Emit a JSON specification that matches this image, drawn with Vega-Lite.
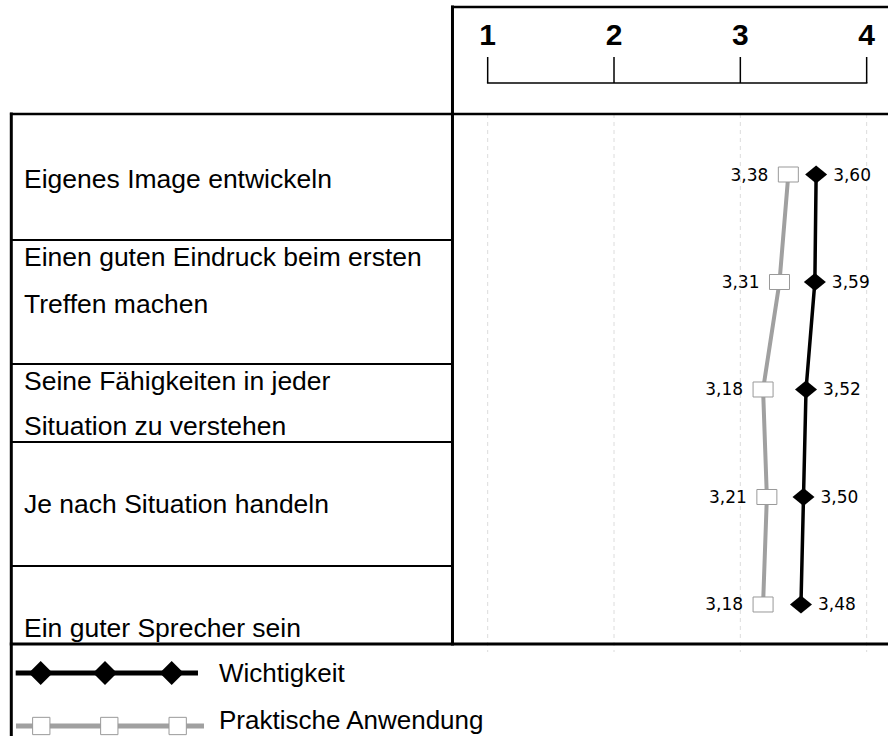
{
  "$schema": "https://vega.github.io/schema/vega-lite/v6.json",
  "width": 888,
  "height": 736,
  "autosize": "none",
  "padding": 0,
  "background": "white",
  "config": {
    "view": {"stroke": null},
    "axis": {"disable": true},
    "legend": {"disable": true},
    "font": "Liberation Sans",
    "locale": {
      "number": {"decimal": ",", "thousands": ".", "grouping": [3], "currency": ["", " €"]}
    }
  },
  "data": {
    "values": [
      {"item": "Eigenes Image entwickeln", "rank": 1, "series": "Wichtigkeit", "value": 3.60},
      {"item": "Eigenes Image entwickeln", "rank": 1, "series": "Praktische Anwendung", "value": 3.38},
      {"item": "Einen guten Eindruck beim ersten Treffen machen", "rank": 2, "series": "Wichtigkeit", "value": 3.59},
      {"item": "Einen guten Eindruck beim ersten Treffen machen", "rank": 2, "series": "Praktische Anwendung", "value": 3.31},
      {"item": "Seine Fähigkeiten in jeder Situation zu verstehen", "rank": 3, "series": "Wichtigkeit", "value": 3.52},
      {"item": "Seine Fähigkeiten in jeder Situation zu verstehen", "rank": 3, "series": "Praktische Anwendung", "value": 3.18},
      {"item": "Je nach Situation handeln", "rank": 4, "series": "Wichtigkeit", "value": 3.50},
      {"item": "Je nach Situation handeln", "rank": 4, "series": "Praktische Anwendung", "value": 3.21},
      {"item": "Ein guter Sprecher sein", "rank": 5, "series": "Wichtigkeit", "value": 3.48},
      {"item": "Ein guter Sprecher sein", "rank": 5, "series": "Praktische Anwendung", "value": 3.18}
    ]
  },
  "layer": [
    {
      "data": {"values": [{"tick": 1}, {"tick": 2}, {"tick": 3}, {"tick": 4}]},
      "mark": {"type": "rule", "stroke": "#dcdcdc", "strokeWidth": 1, "strokeDash": [4, 4]},
      "encoding": {
        "x": {"field": "tick", "type": "quantitative", "scale": {"domain": [-2.8604, 4.1689], "nice": false, "zero": false}},
        "y": {"datum": 0.4372, "type": "quantitative", "scale": {"domain": [-0.6233, 6.2233], "nice": false, "zero": false, "reverse": true}},
        "y2": {"datum": 5.4419}
      }
    },
    {
      "data": {"values": [{}]},
      "mark": {"type": "rule", "stroke": "black", "strokeWidth": 2.7, "strokeCap": "square"},
      "encoding": {"x": {"datum": 0.7214}, "x2": {"datum": 4.4}, "y": {"datum": -0.5581}}
    },
    {
      "data": {"values": [{}]},
      "mark": {"type": "rule", "stroke": "black", "strokeWidth": 3, "strokeCap": "square"},
      "encoding": {"x": {"datum": 0.7214}, "y": {"datum": -0.5581}, "y2": {"datum": 5.3674}}
    },
    {
      "data": {"values": [{}]},
      "mark": {"type": "rule", "stroke": "black", "strokeWidth": 2.7, "strokeCap": "square"},
      "encoding": {"x": {"datum": -2.771}, "x2": {"datum": 4.4}, "y": {"datum": 0.4372}}
    },
    {
      "data": {"values": [{}]},
      "mark": {"type": "rule", "stroke": "black", "strokeWidth": 3, "strokeCap": "square"},
      "encoding": {"x": {"datum": -2.771}, "y": {"datum": 0.4372}, "y2": {"datum": 6.4}}
    },
    {
      "data": {"values": [{}]},
      "mark": {"type": "rule", "stroke": "black", "strokeWidth": 2},
      "encoding": {"x": {"datum": -2.771}, "x2": {"datum": 0.7214}, "y": {"datum": 1.6093}}
    },
    {
      "data": {"values": [{}]},
      "mark": {"type": "rule", "stroke": "black", "strokeWidth": 2},
      "encoding": {"x": {"datum": -2.771}, "x2": {"datum": 0.7214}, "y": {"datum": 2.7628}}
    },
    {
      "data": {"values": [{}]},
      "mark": {"type": "rule", "stroke": "black", "strokeWidth": 2},
      "encoding": {"x": {"datum": -2.771}, "x2": {"datum": 0.7214}, "y": {"datum": 3.4884}}
    },
    {
      "data": {"values": [{}]},
      "mark": {"type": "rule", "stroke": "black", "strokeWidth": 2},
      "encoding": {"x": {"datum": -2.771}, "x2": {"datum": 0.7214}, "y": {"datum": 4.6419}}
    },
    {
      "data": {"values": [{}]},
      "mark": {"type": "rule", "stroke": "black", "strokeWidth": 3, "strokeCap": "square"},
      "encoding": {"x": {"datum": -2.771}, "x2": {"datum": 4.4}, "y": {"datum": 5.3674}}
    },
    {
      "data": {"values": [{"tick": 1}, {"tick": 2}, {"tick": 3}, {"tick": 4}]},
      "mark": {"type": "rule", "stroke": "black", "strokeWidth": 1.5},
      "encoding": {"x": {"field": "tick", "type": "quantitative"}, "y": {"datum": -0.093}, "y2": {"datum": 0.1488}}
    },
    {
      "data": {"values": [{}]},
      "mark": {"type": "rule", "stroke": "black", "strokeWidth": 1.5, "strokeCap": "square"},
      "encoding": {"x": {"datum": 1}, "x2": {"datum": 4}, "y": {"datum": 0.1488}}
    },
    {
      "data": {"values": [{"tick": 1}, {"tick": 2}, {"tick": 3}, {"tick": 4}]},
      "mark": {"type": "text", "font": "Liberation Sans", "fontSize": 30, "fontWeight": "bold", "align": "center", "baseline": "alphabetic", "color": "black"},
      "encoding": {"x": {"field": "tick", "type": "quantitative"}, "y": {"datum": -0.2093}, "text": {"field": "tick", "type": "quantitative"}}
    },
    {
      "transform": [{"filter": "datum.series === 'Praktische Anwendung'"}],
      "mark": {"type": "line", "stroke": "#a0a0a0", "strokeWidth": 4},
      "encoding": {
        "x": {"field": "value", "type": "quantitative"},
        "y": {"field": "rank", "type": "quantitative"},
        "order": {"field": "rank"}
      }
    },
    {
      "transform": [{"filter": "datum.series === 'Wichtigkeit'"}],
      "mark": {"type": "line", "stroke": "black", "strokeWidth": 3.5},
      "encoding": {
        "x": {"field": "value", "type": "quantitative"},
        "y": {"field": "rank", "type": "quantitative"},
        "order": {"field": "rank"}
      }
    },
    {
      "transform": [{"filter": "datum.series === 'Praktische Anwendung'"}],
      "mark": {"type": "point", "shape": "M-1,-0.75L1,-0.75L1,0.75L-1,0.75Z", "size": 400, "filled": true, "fill": "white", "stroke": "#999999", "strokeWidth": 1, "opacity": 1},
      "encoding": {
        "x": {"field": "value", "type": "quantitative"},
        "y": {"field": "rank", "type": "quantitative"}
      }
    },
    {
      "transform": [{"filter": "datum.series === 'Wichtigkeit'"}],
      "mark": {"type": "point", "shape": "M-1,0L0,-0.82L1,0L0,0.82Z", "size": 484, "filled": true, "color": "black", "opacity": 1},
      "encoding": {
        "x": {"field": "value", "type": "quantitative"},
        "y": {"field": "rank", "type": "quantitative"}
      }
    },
    {
      "transform": [{"filter": "datum.series === 'Praktische Anwendung'"}],
      "mark": {"type": "text", "font": "DejaVu Sans", "fontSize": 17, "align": "right", "baseline": "middle", "dx": -20, "dy": 1, "color": "black"},
      "encoding": {
        "x": {"field": "value", "type": "quantitative"},
        "y": {"field": "rank", "type": "quantitative"},
        "text": {"field": "value", "type": "quantitative", "format": ".2f"}
      }
    },
    {
      "transform": [{"filter": "datum.series === 'Wichtigkeit'"}],
      "mark": {"type": "text", "font": "DejaVu Sans", "fontSize": 17, "align": "left", "baseline": "middle", "dx": 17, "dy": 1, "color": "black"},
      "encoding": {
        "x": {"field": "value", "type": "quantitative"},
        "y": {"field": "rank", "type": "quantitative"},
        "text": {"field": "value", "type": "quantitative", "format": ".2f"}
      }
    },
    {
      "data": {"values": [{}]},
      "mark": {"type": "text", "text": "Eigenes Image entwickeln", "fontSize": 26.5, "align": "left", "baseline": "alphabetic", "color": "black"},
      "encoding": {"x": {"datum": -2.6704}, "y": {"datum": 1.1256}}
    },
    {
      "data": {"values": [{}]},
      "mark": {"type": "text", "text": ["Einen guten Eindruck beim ersten", "Treffen machen"], "fontSize": 26.5, "lineHeight": 46.5, "align": "left", "baseline": "alphabetic", "color": "black"},
      "encoding": {"x": {"datum": -2.6704}, "y": {"datum": 1.8558}}
    },
    {
      "data": {"values": [{}]},
      "mark": {"type": "text", "text": ["Seine Fähigkeiten in jeder", "Situation zu verstehen"], "fontSize": 26.5, "lineHeight": 45, "align": "left", "baseline": "alphabetic", "color": "black"},
      "encoding": {"x": {"datum": -2.6704}, "y": {"datum": 3.0047}}
    },
    {
      "data": {"values": [{}]},
      "mark": {"type": "text", "text": "Je nach Situation handeln", "fontSize": 26.5, "align": "left", "baseline": "alphabetic", "color": "black"},
      "encoding": {"x": {"datum": -2.6704}, "y": {"datum": 4.1488}}
    },
    {
      "data": {"values": [{}]},
      "mark": {"type": "text", "text": "Ein guter Sprecher sein", "fontSize": 26.5, "align": "left", "baseline": "alphabetic", "color": "black"},
      "encoding": {"x": {"datum": -2.6704}, "y": {"datum": 5.2995}}
    },
    {
      "data": {"values": [{}]},
      "mark": {"type": "rule", "stroke": "black", "strokeWidth": 5},
      "encoding": {"x": {"datum": -2.7362}, "x2": {"datum": -1.2932}, "y": {"datum": 5.6372}}
    },
    {
      "data": {"values": [{}]},
      "mark": {"type": "point", "shape": "diamond", "size": 576, "filled": true, "color": "black", "opacity": 1},
      "encoding": {"x": {"datum": -2.5384}, "y": {"datum": 5.6372}}
    },
    {
      "data": {"values": [{}]},
      "mark": {"type": "point", "shape": "diamond", "size": 576, "filled": true, "color": "black", "opacity": 1},
      "encoding": {"x": {"datum": -2.0294}, "y": {"datum": 5.6372}}
    },
    {
      "data": {"values": [{}]},
      "mark": {"type": "point", "shape": "diamond", "size": 576, "filled": true, "color": "black", "opacity": 1},
      "encoding": {"x": {"datum": -1.5014}, "y": {"datum": 5.6372}}
    },
    {
      "data": {"values": [{}]},
      "mark": {"type": "rule", "stroke": "#a0a0a0", "strokeWidth": 5},
      "encoding": {"x": {"datum": -2.7338}, "x2": {"datum": -1.2457}, "y": {"datum": 6.1302}}
    },
    {
      "data": {"values": [{}]},
      "mark": {"type": "point", "shape": "square", "size": 300, "filled": true, "fill": "white", "stroke": "#999999", "strokeWidth": 1, "opacity": 1},
      "encoding": {"x": {"datum": -2.5337}, "y": {"datum": 6.1302}}
    },
    {
      "data": {"values": [{}]},
      "mark": {"type": "point", "shape": "square", "size": 300, "filled": true, "fill": "white", "stroke": "#999999", "strokeWidth": 1, "opacity": 1},
      "encoding": {"x": {"datum": -1.9953}, "y": {"datum": 6.1302}}
    },
    {
      "data": {"values": [{}]},
      "mark": {"type": "point", "shape": "square", "size": 300, "filled": true, "fill": "white", "stroke": "#999999", "strokeWidth": 1, "opacity": 1},
      "encoding": {"x": {"datum": -1.4539}, "y": {"datum": 6.1302}}
    },
    {
      "data": {"values": [{}]},
      "mark": {"type": "text", "text": "Wichtigkeit", "fontSize": 26, "align": "left", "baseline": "alphabetic", "color": "black"},
      "encoding": {"x": {"datum": -1.1269}, "y": {"datum": 5.7181}}
    },
    {
      "data": {"values": [{}]},
      "mark": {"type": "text", "text": "Praktische Anwendung", "fontSize": 26, "align": "left", "baseline": "alphabetic", "color": "black"},
      "encoding": {"x": {"datum": -1.1269}, "y": {"datum": 6.1628}}
    }
  ]
}
